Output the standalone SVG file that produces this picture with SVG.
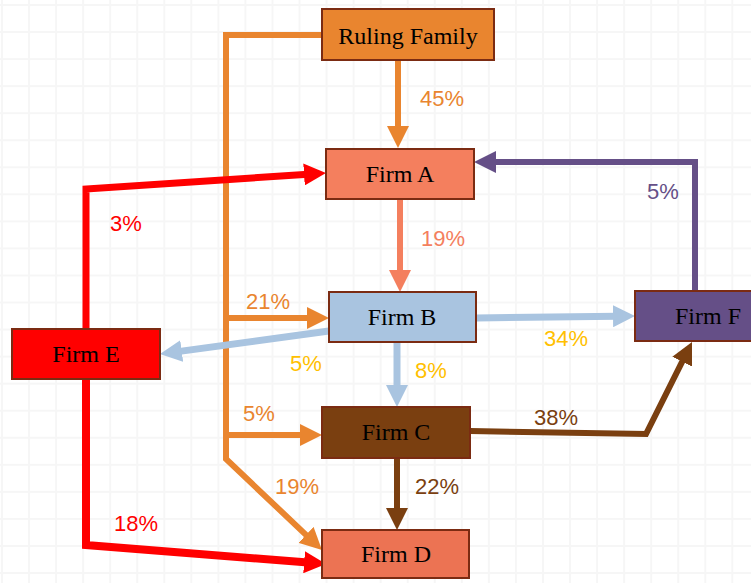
<svg xmlns="http://www.w3.org/2000/svg" width="751" height="583" viewBox="0 0 751 583">
  <defs>
    <pattern id="grid" patternUnits="userSpaceOnUse" x="1" y="4" width="27.05" height="27.05">
      <rect x="0" y="0" width="2" height="27.05" fill="#f6f6f6"/>
      <rect x="0" y="0" width="27.05" height="2" fill="#f6f6f6"/>
    </pattern>
    <marker id="aOrange" markerUnits="userSpaceOnUse" markerWidth="22" markerHeight="22" refX="4" refY="11" orient="auto"><path d="M0,0 L22,11 L0,22 z" fill="#E9852F"/></marker>
    <marker id="aSalmon" markerUnits="userSpaceOnUse" markerWidth="22" markerHeight="22" refX="4" refY="11" orient="auto"><path d="M0,0 L22,11 L0,22 z" fill="#F47F5E"/></marker>
    <marker id="aRed" markerUnits="userSpaceOnUse" markerWidth="22" markerHeight="22" refX="4" refY="11" orient="auto"><path d="M0,0 L22,11 L0,22 z" fill="#FF0000"/></marker>
    <marker id="aBlue" markerUnits="userSpaceOnUse" markerWidth="22" markerHeight="22" refX="4" refY="11" orient="auto"><path d="M0,0 L22,11 L0,22 z" fill="#A9C4E0"/></marker>
    <marker id="aPurple" markerUnits="userSpaceOnUse" markerWidth="22" markerHeight="22" refX="4" refY="11" orient="auto"><path d="M0,0 L22,11 L0,22 z" fill="#654F87"/></marker>
    <marker id="aBrown" markerUnits="userSpaceOnUse" markerWidth="22" markerHeight="22" refX="4" refY="11" orient="auto"><path d="M0,0 L22,11 L0,22 z" fill="#7A3F10"/></marker>
  </defs>
  <style>
    .node rect { stroke: #7B2B12; stroke-width: 2; }
    .node text { font-family: "Liberation Serif", "DejaVu Serif", serif; font-size: 24px; fill: #000; text-anchor: middle; }
    .conn path { fill: none; stroke-linejoin: miter; }
    .lbl { font-family: "Liberation Sans", "Open Sans", sans-serif; font-size: 22px; text-anchor: middle; }
  </style>
  <rect x="0" y="0" width="751" height="583" fill="#ffffff"/>
  <rect x="0" y="0" width="751" height="583" fill="url(#grid)"/>

  <g id="connectors" class="conn">
    <path d="M398,60 V130" stroke="#E9852F" stroke-width="6" marker-end="url(#aOrange)"/>
    <path d="M322,35 H226 V459 L308.9,537.6" stroke="#E9852F" stroke-width="6" marker-end="url(#aOrange)"/>
    <path d="M226,318 H311" stroke="#E9852F" stroke-width="6" marker-end="url(#aOrange)"/>
    <path d="M226,435 H304" stroke="#E9852F" stroke-width="6" marker-end="url(#aOrange)"/>
    <path d="M86,329 V189 L308,174.2" stroke="#FF0000" stroke-width="7" marker-end="url(#aRed)"/>
    <path d="M86,379 V545 L308.1,562.6" stroke="#FF0000" stroke-width="8" marker-end="url(#aRed)"/>
    <path d="M400,199 V274" stroke="#F47F5E" stroke-width="6" marker-end="url(#aSalmon)"/>
    <path d="M476,318 L617,316.2" stroke="#A9C4E0" stroke-width="7" marker-end="url(#aBlue)"/>
    <path d="M329,331 L177.8,351.6" stroke="#A9C4E0" stroke-width="7" marker-end="url(#aBlue)"/>
    <path d="M397,342 V389" stroke="#A9C4E0" stroke-width="7" marker-end="url(#aBlue)"/>
    <path d="M695,291 V162 H492" stroke="#654F87" stroke-width="6" marker-end="url(#aPurple)"/>
    <path d="M470,431 L646,434 L683.95,358.1" stroke="#7A3F10" stroke-width="6" marker-end="url(#aBrown)"/>
    <path d="M397,458 V512" stroke="#7A3F10" stroke-width="6" marker-end="url(#aBrown)"/>
  </g>

  <g id="labels">
    <text class="lbl" x="442" y="106" fill="#E9852F">45%</text>
    <text class="lbl" x="443" y="246" fill="#F47F5E">19%</text>
    <text class="lbl" x="663" y="199" fill="#654F87">5%</text>
    <text class="lbl" x="566" y="346" fill="#FFC000">34%</text>
    <text class="lbl" x="431" y="378" fill="#FFC000">8%</text>
    <text class="lbl" x="126" y="231" fill="#FF0000">3%</text>
    <text class="lbl" x="268" y="309" fill="#E9852F">21%</text>
    <text class="lbl" x="306" y="371" fill="#FFC000">5%</text>
    <text class="lbl" x="259" y="421" fill="#E9852F">5%</text>
    <text class="lbl" x="556" y="425" fill="#7A3F10">38%</text>
    <text class="lbl" x="297" y="494" fill="#E9852F">19%</text>
    <text class="lbl" x="437" y="494" fill="#7A3F10">22%</text>
    <text class="lbl" x="136" y="531" fill="#FF0000">18%</text>
  </g>

  <g id="ruling-family" class="node">
    <rect x="322" y="9" width="172" height="51" fill="#E9852F"/>
    <text x="408" y="44">Ruling Family</text>
  </g>
  <g id="firm-a" class="node">
    <rect x="326" y="149" width="148" height="50" fill="#F47F5E"/>
    <text x="400" y="182">Firm A</text>
  </g>
  <g id="firm-b" class="node">
    <rect x="329" y="292" width="147" height="50" fill="#A9C4E0"/>
    <text x="402" y="325">Firm B</text>
  </g>
  <g id="firm-c" class="node">
    <rect x="322" y="407" width="148" height="51" fill="#7A3F10"/>
    <text x="396" y="440">Firm C</text>
  </g>
  <g id="firm-d" class="node">
    <rect x="322" y="530" width="147" height="48" fill="#EC7353"/>
    <text x="396" y="562">Firm D</text>
  </g>
  <g id="firm-e" class="node">
    <rect x="12" y="329" width="148" height="50" fill="#FF0000"/>
    <text x="86" y="362">Firm E</text>
  </g>
  <g id="firm-f" class="node">
    <rect x="635" y="291" width="146" height="50" fill="#654F87"/>
    <text x="708" y="324">Firm F</text>
  </g>
</svg>
